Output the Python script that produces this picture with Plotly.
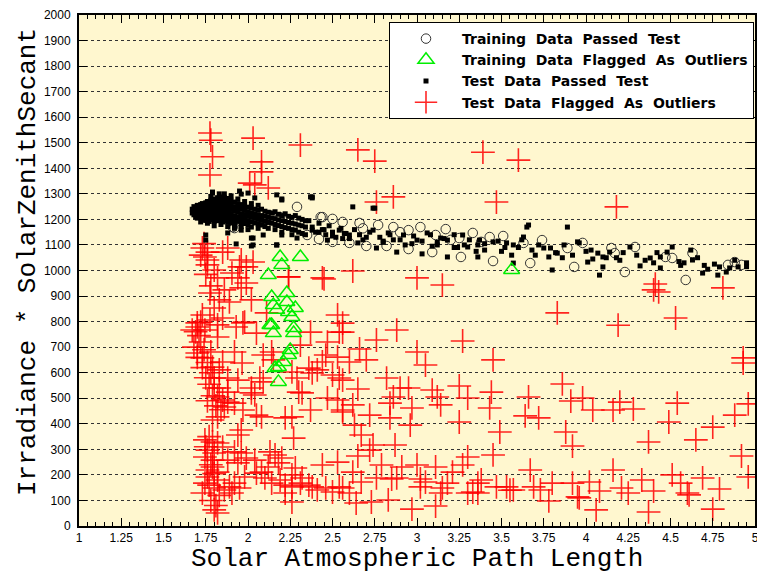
import plotly.graph_objects as go

# ---------------- data ----------------
# Training data that passed the test (open circles)
train_pass_x = [2.29, 1.91, 2.35, 2.42, 2.50, 2.60, 2.70, 2.82, 2.95, 3.09, 3.26, 3.45, 3.67, 3.93, 4.23, 4.59,
                2.43, 2.50, 2.66, 2.77, 2.86, 2.95, 3.02, 3.17, 3.11, 3.25, 3.33, 3.43, 3.51, 3.63, 3.74, 3.89,
                3.98, 4.15, 4.17, 4.29, 4.47, 4.51, 4.63, 4.84, 4.88, 4.92, 2.01, 2.09, 2.19, 1.92, 2.44, 2.56,
                2.68, 2.90, 3.20, 3.38, 1.86, 1.97, 2.13, 2.24]
train_pass_y = [1249, 1170, 1139, 1123, 1112, 1108, 1096, 1096, 1084, 1072, 1053, 1037, 1029, 1014, 994, 963,
                1209, 1202, 1186, 1178, 1170, 1158, 1170, 1162, 1139, 1127, 1147, 1131, 1135, 1108, 1119, 1088,
                1108, 1088, 1068, 1092, 1053, 1049, 1068, 1022, 1033, 1022, 1209, 1198, 1209, 1166, 1209, 1190,
                1165, 1150, 1120, 1112, 1240, 1225, 1215, 1200]

# Training data flagged as outliers (open triangles)
train_out_x = [2.19, 2.20, 2.31, 2.12, 2.14, 2.23, 2.23, 2.15, 2.28, 2.24, 2.17, 2.14, 2.26, 2.27,
               2.13, 2.15, 2.27, 2.25, 2.24, 2.21, 2.18, 2.16, 2.18, 3.56]
train_out_y = [1053, 1022, 1053, 982, 896, 912, 877, 865, 853, 838, 846, 787, 818, 775,
               787, 755, 755, 689, 669, 642, 622, 618, 564, 1002]

# Test data that passed the test (small filled squares)
test_pass_x = [
    1.67, 1.67, 1.68, 1.68, 1.68, 1.69, 1.69, 1.69, 1.70, 1.70, 1.70, 1.70, 1.71, 1.71, 1.71,
    1.72, 1.72, 1.72, 1.72, 1.73, 1.73, 1.73, 1.73, 1.73, 1.74, 1.74, 1.74, 1.74,
    1.75, 1.75, 1.75, 1.75, 1.75, 1.76, 1.76, 1.76, 1.76, 1.76, 1.77, 1.77, 1.77, 1.77, 1.77,
    1.78, 1.78, 1.78, 1.78, 1.78, 1.79, 1.79, 1.79, 1.79, 1.79,
    1.80, 1.80, 1.80, 1.80, 1.80, 1.80, 1.81, 1.81, 1.81, 1.81, 1.81,
    1.82, 1.82, 1.82, 1.82, 1.82, 1.82, 1.83, 1.83, 1.83, 1.83, 1.83,
    1.84, 1.84, 1.84, 1.84, 1.84, 1.84, 1.85, 1.85, 1.85, 1.85, 1.85, 1.85,
    1.86, 1.86, 1.86, 1.86, 1.86, 1.86, 1.87, 1.87, 1.87, 1.87, 1.87,
    1.88, 1.88, 1.88, 1.88, 1.88, 1.88, 1.89, 1.89, 1.89, 1.89, 1.89,
    1.90, 1.90, 1.90, 1.90, 1.90, 1.90, 1.92, 1.92, 1.92, 1.92, 1.92, 1.92,
    1.94, 1.94, 1.94, 1.94, 1.94, 1.96, 1.96, 1.96, 1.96, 1.96, 1.96,
    1.98, 1.98, 1.98, 1.98, 1.98, 2.00, 2.00, 2.00, 2.00, 2.00,
    2.02, 2.02, 2.02, 2.02, 2.02, 2.04, 2.04, 2.04, 2.04, 2.06, 2.06, 2.06, 2.06, 2.06,
    2.08, 2.08, 2.08, 2.08, 2.10, 2.10, 2.10, 2.10, 2.12, 2.12, 2.12, 2.12, 2.14, 2.14, 2.14,
    2.16, 2.16, 2.16, 2.16, 2.18, 2.18, 2.18, 2.20, 2.20, 2.20, 2.20, 2.22, 2.22, 2.22,
    2.24, 2.24, 2.24, 2.26, 2.26, 2.26, 2.26, 2.28, 2.28, 2.28, 2.30, 2.30, 2.30,
    2.32, 2.32, 2.32, 2.34, 2.34, 2.34,
    2.62, 2.74, 2.38, 2.17, 2.20, 3.65, 3.66, 3.89, 4.51, 4.08, 4.69, 4.78, 3.80, 4.32, 4.01,
    4.38, 4.44, 4.44, 4.63, 4.76, 4.83, 4.07, 4.10, 4.10, 3.96, 4.26, 3.75, 3.78, 3.83, 3.57,
    3.53, 3.57, 3.36, 3.36, 3.30, 3.18, 3.18, 3.03, 3.00, 2.88, 2.92, 2.76, 2.65, 2.47, 2.29,
    2.20, 2.09, 2.02, 2.02, 2.17, 2.38, 2.54, 2.60, 2.74, 2.83, 3.06, 3.14, 3.27, 3.37, 3.45,
    3.63, 3.79, 3.95, 4.14, 4.30, 4.48, 4.62, 4.79, 4.85, 4.90,
    1.75, 1.75, 1.88, 1.93, 2.03, 2.03, 2.17, 2.37, 1.79, 1.96, 2.00, 2.75, 2.04, 1.79, 1.95,
    2.20, 2.38, 2.42, 2.50, 2.56, 2.70, 2.80, 2.97, 3.09, 3.22, 3.40, 3.50, 3.70, 3.86, 4.04,
    4.20, 4.40, 4.56, 4.72, 2.45, 2.58, 2.86, 3.12, 3.28, 3.60, 4.00, 4.18, 4.55, 4.95,
    2.36, 2.38, 2.40, 2.42, 2.44, 2.46, 2.48, 2.50, 2.52, 2.55, 2.57, 2.60, 2.63, 2.66, 2.68,
    2.72, 2.78, 2.80, 2.84, 2.90, 2.93, 2.98, 3.03, 3.08, 3.12, 3.16, 3.22, 3.24, 3.31, 3.35,
    3.40, 3.48, 3.52, 3.56, 3.62, 3.68, 3.72, 3.82, 3.87, 3.92, 4.03, 4.12, 4.22, 4.35, 4.42,
    4.58, 4.66, 4.70, 4.88, 4.95,
    1.72, 1.76, 1.80, 1.84, 1.88, 1.92, 1.96, 2.00, 1.78, 1.83, 1.86, 1.90, 1.94, 1.98, 2.02, 2.06]
test_pass_y = [
    1240, 1225, 1250, 1232, 1218, 1245, 1228, 1210, 1255, 1238, 1222, 1205, 1248, 1230, 1215,
    1258, 1240, 1224, 1208, 1262, 1245, 1228, 1212, 1198, 1252, 1235, 1218, 1202,
    1265, 1248, 1230, 1214, 1196, 1270, 1255, 1238, 1220, 1205, 1260, 1242, 1225, 1208, 1192,
    1275, 1258, 1240, 1222, 1205, 1268, 1250, 1232, 1215, 1198,
    1280, 1262, 1245, 1228, 1210, 1192, 1272, 1255, 1236, 1218, 1200,
    1285, 1265, 1248, 1230, 1212, 1195, 1275, 1258, 1240, 1222, 1204,
    1288, 1268, 1250, 1232, 1215, 1198, 1280, 1262, 1244, 1226, 1208, 1190,
    1285, 1265, 1248, 1230, 1212, 1194, 1275, 1258, 1240, 1222, 1205,
    1282, 1262, 1244, 1226, 1208, 1190, 1270, 1252, 1235, 1218, 1200,
    1275, 1258, 1240, 1222, 1204, 1186, 1268, 1250, 1232, 1214, 1196, 1180,
    1262, 1245, 1228, 1210, 1192, 1258, 1240, 1222, 1205, 1188, 1172,
    1252, 1235, 1218, 1200, 1184, 1248, 1230, 1212, 1195, 1178,
    1245, 1226, 1208, 1190, 1170, 1240, 1222, 1204, 1186, 1236, 1218, 1200, 1182, 1165,
    1240, 1215, 1196, 1178, 1232, 1212, 1192, 1172, 1228, 1208, 1188, 1165, 1225, 1205, 1185,
    1230, 1202, 1180, 1160, 1220, 1198, 1176, 1215, 1195, 1172, 1150, 1222, 1192, 1168,
    1212, 1188, 1165, 1208, 1185, 1160, 1140, 1215, 1182, 1158, 1205, 1178, 1150,
    1200, 1175, 1145, 1195, 1170, 1140,
    1249, 1244, 1284, 1296, 1280, 1170, 1178, 1170, 1092, 982, 990, 982, 1002, 1018, 1033,
    1049, 1053, 1010, 1041, 1025, 994, 1068, 1053, 1014, 1108, 1092, 1088, 1053, 1068, 1100,
    1108, 1029, 1100, 1053, 1092, 1119, 1053, 1065, 1119, 1072, 1139, 1088, 1108, 1119, 1127,
    1139, 1139, 1127, 1096, 1100, 1158, 1158, 1139, 1158, 1147, 1147, 1127, 1139, 1119, 1112,
    1131, 1088, 1112, 1072, 1060, 1072, 1080, 1014, 1010, 1014,
    1139, 1119, 1147, 1104, 1127, 1100, 1100, 1288, 1303, 1299, 1303, 1244, 1284, 1307, 1311,
    1276, 1288, 1150, 1135, 1125, 1130, 1115, 1105, 1095, 1090, 1080, 1075, 1060, 1050, 1045,
    1040, 1030, 1020, 1005, 1160, 1145, 1120, 1110, 1100, 1090, 1075, 1050, 1035, 1015,
    1195, 1170, 1150, 1185, 1160, 1140, 1175, 1150, 1130, 1165, 1145, 1125, 1160, 1140, 1120,
    1150, 1130, 1110, 1140, 1120, 1100, 1135, 1115, 1140, 1100, 1125, 1140, 1090, 1120, 1075,
    1105, 1115, 1090, 1060, 1120, 1080, 1100, 1070, 1100, 1060, 1080, 1050, 1070, 1040, 1070,
    1030, 1050, 1020, 1040, 1030,
    1190, 1185, 1175, 1180, 1172, 1165, 1158, 1160, 1290, 1300, 1300, 1292, 1280, 1270, 1262, 1255]

# Test data flagged as outliers (red crosses)
test_out_x = [
    1.775, 1.78, 1.79, 1.775, 2.03, 2.31, 2.08, 2.08, 2.01, 2.04, 2.12, 2.65, 2.75, 2.86, 2.76,
    3.39, 3.60, 3.47, 4.18, 2.62, 2.45, 3.00, 3.15, 4.41, 4.40, 4.81, 2.24,
    3.83, 4.19, 4.53, 4.43, 4.93, 4.93, 3.86, 3.91, 3.98, 4.04, 4.16, 4.20, 4.28, 4.54, 4.49,
    4.75, 4.88, 4.96, 3.88, 3.92, 4.37, 4.65, 4.92, 4.96, 4.16, 3.80, 3.92, 4.02, 4.08, 3.95,
    3.96, 4.21, 4.25, 4.33, 4.40, 4.51, 4.56, 4.60, 4.61, 4.69, 4.79, 4.06, 4.37, 4.75, 3.78,
    2.56, 2.56, 2.88, 2.76, 3.27, 2.66, 3.00, 2.60, 2.70, 3.05, 3.45, 2.82, 2.56, 2.65, 2.90,
    2.95, 3.09, 3.12, 3.14, 3.25, 3.30, 3.44, 3.43, 3.66, 3.64, 3.72, 2.86, 2.84, 2.62, 2.56,
    2.72, 2.84, 2.97, 2.96, 2.63, 2.67, 3.25, 3.49, 2.74, 2.72, 2.87, 2.65, 3.45, 3.30, 3.27,
    3.11, 3.00, 2.91, 2.79, 2.62, 3.21, 2.76, 2.85, 2.88, 3.02, 3.05, 2.67, 3.18, 3.38, 3.36,
    3.67, 3.47, 3.53, 3.57, 3.69, 3.73, 3.02, 3.15, 3.30, 3.33, 3.36, 2.56, 2.60, 2.83, 2.73,
    2.64, 2.97, 3.11, 3.55, 3.14,
    1.70, 1.745, 1.82, 1.82, 1.93, 1.97, 2.05, 2.37, 2.54, 2.47, 2.31, 1.70, 1.78, 1.73, 1.92,
    1.965, 2.09, 2.14, 2.15, 2.46, 2.44, 2.53, 1.79, 1.83, 1.85, 1.80, 1.88, 1.94, 2.07, 2.09,
    2.36, 2.38, 2.41, 2.50, 2.26, 2.29, 2.54, 2.02, 2.02, 2.04, 1.83, 1.88, 1.82, 1.85, 1.88,
    1.86, 1.92, 2.30, 2.32, 2.47, 2.53, 2.37, 1.97, 2.05, 2.08, 1.82, 1.79, 2.22, 2.26, 2.56,
    1.96, 1.94, 2.27, 1.745, 1.79, 1.82, 1.85, 1.76, 1.80, 1.745, 1.79, 1.79, 1.76, 1.82, 1.76,
    1.82, 1.745, 1.80, 1.86, 1.92, 1.96, 1.99, 1.88, 1.94, 2.04, 2.13, 2.16, 2.20, 2.12, 2.18,
    2.08, 2.05, 2.10, 1.98, 1.92, 1.89, 1.95, 2.14, 2.19, 2.22, 2.26, 2.31, 2.32, 2.36, 2.38,
    2.41, 2.46, 2.50, 2.54, 2.28, 2.26, 2.22, 2.26, 2.44, 2.53, 1.80, 1.82, 1.73, 1.905,
    1.73, 1.76, 1.745, 1.76, 1.76, 1.88, 1.85, 1.96, 2.03, 1.99, 1.95, 1.80, 1.905, 1.82, 1.94,
    1.99, 1.96, 1.86, 2.24, 2.44, 1.775, 1.83, 1.89, 2.02, 1.80, 1.73, 1.85, 1.98, 2.53, 2.11,
    1.70, 1.775, 1.67, 1.72, 1.69, 1.71, 1.68, 1.72, 1.74, 1.70, 1.76, 1.73, 1.78, 1.75, 1.77,
    1.80, 1.79, 1.76, 1.81, 1.84, 1.77, 1.75, 1.78, 1.80, 1.77, 1.83, 1.78, 1.81, 1.74, 1.72,
    1.75, 1.78]
test_out_y = [
    1538, 1510, 1445, 1374, 1518, 1491, 1425, 1386, 1342, 1335, 1323, 1472, 1428, 1288, 1268,
    1463, 1432, 1268, 1249, 998, 967, 971, 943, 947, 924, 932, 975,
    834, 786, 814, 916, 658, 638, 556, 489, 501, 454, 454, 485, 458, 481, 407,
    387, 434, 478, 368, 313, 329, 337, 274, 192, 219, 168, 168, 172, 137, 114,
    110, 149, 129, 180, 137, 200, 168, 129, 122, 188, 145, 63, 55, 66, 98,
    794, 759, 767, 728, 724, 693, 681, 642, 650, 630, 650, 579, 571, 536, 540,
    540, 532, 505, 474, 548, 501, 524, 462, 505, 431, 423, 505, 481, 474, 446,
    434, 423, 462, 395, 395, 356, 407, 368, 317, 297, 317, 274, 278, 270, 239,
    231, 239, 231, 239, 211, 211, 188, 184, 188, 184, 172, 172, 168, 180, 168,
    219, 153, 153, 141, 153, 141, 153, 149, 129, 133, 129, 149, 129, 102, 94,
    90, 66, 78, 140, 129,
    779, 767, 787, 740, 779, 795, 755, 759, 759, 720, 708, 677, 681, 658, 681,
    638, 669, 681, 650, 669, 642, 661, 622, 611, 642, 579, 579, 571, 579, 564,
    618, 599, 611, 591, 603, 579, 579, 540, 521, 513, 540, 524, 505, 493, 485,
    466, 481, 524, 521, 501, 493, 454, 454, 434, 427, 427, 415, 423, 427, 454,
    376, 356, 344, 337, 329, 325, 309, 297, 286, 270, 258, 231, 219, 211, 192,
    180, 168, 149, 141, 290, 286, 266, 258, 247, 258, 290, 278, 266, 231, 247,
    211, 207, 188, 192, 168, 153, 149, 168, 180, 160, 153, 168, 188, 160, 153,
    141, 149, 133, 153, 227, 200, 129, 94, 239, 250, 63, 51, 129, 129,
    1088, 1072, 1053, 1041, 1022, 1088, 1072, 1041, 1033, 1014, 1014, 1002, 990, 971, 971,
    951, 932, 924, 975, 971, 912, 885, 877, 885, 853, 826, 814, 798, 826, 834,
    795, 806, 767, 798, 760, 745, 700, 720, 690, 660, 640, 620, 600, 580, 555,
    540, 510, 490, 470, 455, 350, 310, 240, 205, 160, 120, 100, 80, 1105, 1060,
    985, 940]

# axis tick labels
x_tick_vals = [1, 1.25, 1.5, 1.75, 2, 2.25, 2.5, 2.75, 3, 3.25, 3.5, 3.75, 4, 4.25, 4.5, 4.75, 5]
x_tick_text = ["1", "1.25", "1.5", "1.75", "2", "2.25", "2.5", "2.75", "3", "3.25", "3.5",
               "3.75", "4", "4.25", "4.5", "4.75", "5"]

series_names = ["Training Data Passed Test", "Training Data Flagged As Outliers",
                "Test Data Passed Test", "Test Data Flagged As Outliers"]
# the reference legend uses wide word spacing
legend_names = [n.replace(" ", "\u00a0 ") for n in series_names]

# ---------------- figure ----------------
fig = go.Figure()

fig.add_trace(go.Scatter(
    x=test_out_x, y=test_out_y, mode="markers", name=legend_names[3], legendrank=4,
    marker=dict(symbol="cross-thin-open", size=17, line=dict(color="rgba(255,0,0,0.85)", width=1.6),
                color="rgba(255,0,0,0.85)")))
fig.add_trace(go.Scatter(
    x=train_pass_x, y=train_pass_y, mode="markers", name=legend_names[0], legendrank=1,
    marker=dict(symbol="circle-open", size=9.5, line=dict(color="#333333", width=1), color="#333333")))
fig.add_trace(go.Scatter(
    x=test_pass_x, y=test_pass_y, mode="markers", name=legend_names[2], legendrank=3,
    marker=dict(symbol="square", size=5, color="black", line=dict(width=0))))
fig.add_trace(go.Scatter(
    x=train_out_x, y=train_out_y, mode="markers", name=legend_names[1], legendrank=2,
    marker=dict(symbol="triangle-up-open", size=14, line=dict(color="#00ee00", width=1.5), color="#00ee00")))

tick_font = dict(family="Liberation Sans, Arial, sans-serif", size=12, color="black")
title_font = dict(family="Liberation Mono, Courier New, monospace", size=26, color="black")

fig.update_xaxes(
    range=[1, 5], tickmode="array", tickvals=x_tick_vals, ticktext=x_tick_text,
    ticks="inside", ticklen=8, tickwidth=1, tickcolor="black",
    minor=dict(dtick=0.05, ticks="inside", ticklen=4, tickcolor="black", showgrid=False),
    showline=True, linewidth=2, linecolor="black", mirror="ticks",
    showgrid=False, zeroline=False, tickfont=tick_font, ticklabeloverflow="allow")
fig.update_yaxes(
    range=[0, 2000], dtick=100, ticks="inside", ticklen=8, tickwidth=1, tickcolor="black",
    showline=True, linewidth=2, linecolor="black", mirror="ticks",
    showgrid=True, gridcolor="#333333", griddash="dot", gridwidth=1,
    zeroline=False, tickfont=tick_font, ticklabelstandoff=4)

fig.add_annotation(text="Solar Atmospheric Path Length", xref="paper", yref="paper",
                   x=0.5, y=(526 - 575) / 511, xanchor="center", yanchor="bottom",
                   showarrow=False, font=title_font, borderpad=0)
fig.add_annotation(text="Irradiance * SolarZenithSecant", xref="paper", yref="paper",
                   x=(28 - 79) / 676, y=(526 - 262) / 511, xanchor="center", yanchor="middle",
                   textangle=-90, showarrow=False, font=title_font)

fig.update_layout(
    width=757, height=575,
    margin=dict(l=79, r=2, t=15, b=49, autoexpand=False),
    paper_bgcolor="white", plot_bgcolor="#fff7cf",
    showlegend=True,
    legend=dict(x=(389 - 79) / 676, y=(526 - 22) / 511, xanchor="left", yanchor="top",
                bgcolor="white", bordercolor="black", borderwidth=1,
                font=dict(family="DejaVu Sans, sans-serif", size=14, color="black", weight="bold"),
                itemwidth=62, itemsizing="trace"),
)

fig.write_html("out.html")
